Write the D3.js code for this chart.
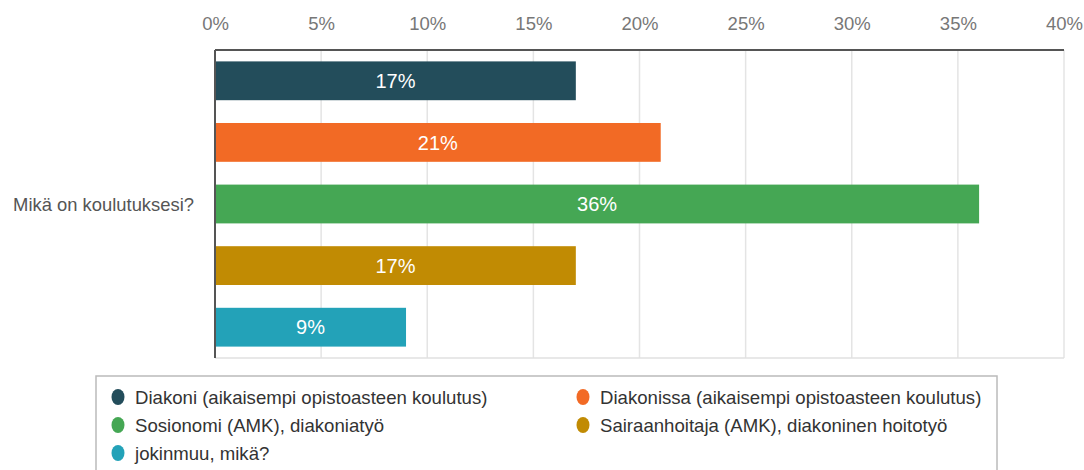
<!DOCTYPE html>
<html><head><meta charset="utf-8">
<script src="https://cdn.jsdelivr.net/npm/d3@7"></script>
<style>body{margin:0;background:#fff}svg{display:block}</style>
</head><body>
<svg id="c" width="1084" height="470"></svg>
<script>
const question = "Mikä on koulutuksesi?";
const categories = [
  "Diakoni (aikaisempi opistoasteen koulutus)",
  "Diakonissa (aikaisempi opistoasteen koulutus)",
  "Sosionomi (AMK), diakoniatyö",
  "Sairaanhoitaja (AMK), diakoninen hoitotyö",
  "jokinmuu, mikä?"
];
const values = [17, 21, 36, 17, 9];
const colors = ["#234d5b", "#f26a25", "#45a754", "#c18b03", "#23a2b8"];
const ticks = [0, 5, 10, 15, 20, 25, 30, 35, 40];

const svg = d3.select("#c");
const font = "'Liberation Sans', Arial, sans-serif";
const L = 215, R = 1064, T = 50, B = 358;
const x = d3.scaleLinear().domain([0, 40]).range([L, R]);
const y = d3.scaleBand().domain(categories).range([T, B]).paddingInner(0.37).paddingOuter(0.185);

// grid
svg.append("g").selectAll("line").data(ticks).join("line")
  .attr("x1", d => x(d)).attr("x2", d => x(d)).attr("y1", T).attr("y2", B)
  .attr("stroke", "#e4e4e4").attr("stroke-width", 1.5);
svg.append("line").attr("x1", L).attr("x2", R).attr("y1", B).attr("y2", B).attr("stroke", "#e0e0e0").attr("stroke-width", 1.5);

// top axis
const ax = svg.append("g").attr("transform", `translate(0,${T})`)
  .call(d3.axisTop(x).tickValues(ticks).tickFormat(d => d + "%").tickSize(0).tickPadding(20));
ax.select(".domain").remove();
ax.selectAll("text").attr("font-family", font).attr("font-size", 18.5).attr("fill", "#777");
svg.append("line").attr("x1", L).attr("x2", R).attr("y1", T).attr("y2", T).attr("stroke", "#555").attr("stroke-width", 2);
svg.append("line").attr("x1", L).attr("x2", L).attr("y1", T).attr("y2", B).attr("stroke", "#555").attr("stroke-width", 2);

// bars
svg.append("g").selectAll("rect").data(values).join("rect")
  .attr("x", L + 1).attr("y", (d, i) => y(categories[i]))
  .attr("width", d => x(d) - L - 1).attr("height", y.bandwidth())
  .attr("fill", (d, i) => colors[i]);
svg.append("g").selectAll("text").data(values).join("text")
  .attr("x", d => (L + x(d)) / 2).attr("y", (d, i) => y(categories[i]) + y.bandwidth() / 2)
  .attr("dy", "0.36em").attr("text-anchor", "middle")
  .attr("font-family", font).attr("font-size", 20).attr("fill", "#fff")
  .text(d => d + "%");

// question label
svg.append("text").attr("x", 194).attr("y", (T + B) / 2).attr("dy", "0.36em")
  .attr("text-anchor", "end").attr("font-family", font).attr("font-size", 18.4).attr("fill", "#555")
  .text(question);

// legend
svg.append("rect").attr("x", 96).attr("y", 376).attr("width", 901).attr("height", 110)
  .attr("fill", "none").attr("stroke", "#bbb").attr("stroke-width", 1.5);
const lg = svg.append("g").selectAll("g").data(categories).join("g")
  .attr("transform", (d, i) => `translate(${i % 2 ? 583 : 118},${397 + Math.floor(i / 2) * 28})`);
lg.append("ellipse").attr("rx", 6.5).attr("ry", 8).attr("fill", (d, i) => colors[i]);
lg.append("text").attr("x", 17).attr("dy", "0.36em").attr("font-family", font).attr("font-size", 18.6)
  .attr("fill", "#333").text(d => d);
</script>
</body></html>
